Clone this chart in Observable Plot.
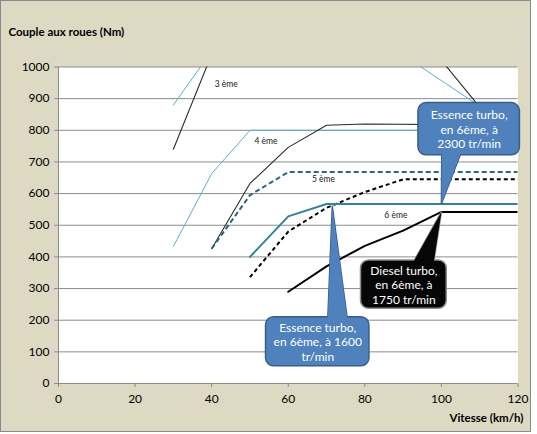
<!DOCTYPE html>
<html><head><meta charset="utf-8">
<script src="https://cdn.jsdelivr.net/npm/d3@7"></script>
<script src="https://cdn.jsdelivr.net/npm/@observablehq/plot@0.6"></script>
<style>
html,body{margin:0;padding:0;background:#fff;}
#chart svg{display:block;border:1px solid #8a8a8a;}
#chart [aria-label*="axis"] text{fill:#000;font-size:12px;font-family:Lato,sans-serif;}
</style></head><body><div id="chart"></div>
<script>
// ---- data ----
const xTicks = [0, 20, 40, 60, 80, 100, 120];
const yTicks = [0, 100, 200, 300, 400, 500, 600, 700, 800, 900, 1000];
const yTitle = "Couple aux roues (Nm)";
const xTitle = "Vitesse (km/h)";

// [vitesse km/h, couple Nm]
const essence3 = [[30, 880], [40, 1050], [90, 1038], [110, 876]];
const diesel3  = [[30, 740], [40, 1040], [100, 1021], [110, 873]];
const essence4 = [[30, 433], [40, 663], [50, 800], [120, 800]];
const diesel4  = [[40, 426], [50, 632], [60, 746], [70, 816], [80, 820], [120, 816]];
const essence5 = [[40, 426], [50, 595], [60, 668], [120, 668]];
const diesel5  = [[50, 336], [60, 480], [70, 555], [80, 605], [90, 645], [120, 645]];
const essence6 = [[50, 400], [60, 528], [70, 567], [120, 567]];
const diesel6  = [[60, 290], [70, 370], [80, 435], [90, 483], [100, 542], [120, 542]];

const gearLabels = ["3 ème", "4 ème", "5 ème", "6 ème"];
const gearLabelX = [43.8, 54.2, 69.2, 88.1];
const gearLabelY = [945, 766, 644, 533];

const calloutText = [
  "Essence turbo,\nen 6ème, à\n2300 tr/min",
  "Diesel turbo,\nen 6ème, à\n1750 tr/min",
  "Essence turbo,\nen 6ème, à 1600\ntr/min"
];
const calloutTipX = [100, 100, 71.5];
const calloutTipY = [568, 542, 560];
// box: [x1, x2, y1, y2] in data units
const calloutBox = [[94, 120.5, 721, 886], [79, 101.4, 236, 389], [54.2, 81.2, 54.4, 209.5]];
// pointer base: [xLeft, xRight, y]
const calloutBase = [[100.1, 105.3, 735], [92.3, 97.9, 376], [70.3, 75.5, 196]];

// ---- styles ----
const seriesData = {essence3, diesel3, essence4, diesel4, essence5, diesel5, essence6, diesel6};
const seriesStyle = {
  essence3: {stroke: "#5DADC8", strokeWidth: 1},
  diesel3:  {stroke: "#2b2b2b", strokeWidth: 1.1},
  essence4: {stroke: "#5DADC8", strokeWidth: 1},
  diesel4:  {stroke: "#2b2b2b", strokeWidth: 1.1},
  essence5: {stroke: "#2A6781", strokeWidth: 2, strokeDasharray: "5,3", strokeLinecap: "butt"},
  diesel5:  {stroke: "#000000", strokeWidth: 2, strokeDasharray: "4,3", strokeLinecap: "butt"},
  essence6: {stroke: "#31849B", strokeWidth: 2},
  diesel6:  {stroke: "#000000", strokeWidth: 2}
};
const calloutFill = ["#4F81BD", "#060606", "#4F81BD"];
const calloutStroke = ["#385D8A", "#8C8C8C", "#385D8A"];

// ---- marks ----
const marks = [
  Plot.frame({fill: "white", stroke: "none"}),
  Plot.ruleY(yTicks.filter(v => v > 0), {stroke: "#8c8c8c", strokeWidth: 1}),
  Plot.ruleX([0], {stroke: "#8c8c8c", strokeWidth: 1}),
  Plot.ruleY([0], {stroke: "#8c8c8c", strokeWidth: 1})
];
for (const name of Object.keys(seriesData)) {
  marks.push(Plot.line(seriesData[name], {x: d => d[0], y: d => d[1], clip: true, ...seriesStyle[name]}));
}
marks.push(Plot.text(gearLabels, {
  x: (d, i) => gearLabelX[i], y: (d, i) => gearLabelY[i], text: d => d,
  fontSize: 8.5, fill: "#1a1a1a"
}));
calloutText.forEach((txt, i) => {
  const b = calloutBox[i], base = calloutBase[i];
  const tri = [[calloutTipX[i], calloutTipY[i]], [base[0], base[2]], [base[1], base[2]], [calloutTipX[i], calloutTipY[i]]];
  marks.push(Plot.line(tri, {x: d => d[0], y: d => d[1], fill: calloutFill[i], stroke: calloutStroke[i], strokeWidth: 1.5, strokeLinejoin: "miter"}));
  marks.push(Plot.rect([b], {x1: d => d[0], x2: d => d[1], y1: d => d[2], y2: d => d[3], fill: calloutFill[i], stroke: calloutStroke[i], strokeWidth: 1.5, rx: 8}));
  marks.push(Plot.line(tri, {x: d => d[0], y: d => d[1], fill: calloutFill[i], stroke: "none"}));
  marks.push(Plot.text([txt], {
    x: (b[0] + b[1]) / 2, y: (b[2] + b[3]) / 2, text: d => d,
    fill: "white", fontSize: 12, lineHeight: 1.2
  }));
});
marks.push(Plot.text([yTitle], {frameAnchor: "top-left", text: d => d, textAnchor: "start", dx: -50, dy: -39.5, fontWeight: "bold", fontSize: 11.5, fill: "#000"}));
marks.push(Plot.text([xTitle], {frameAnchor: "bottom-right", text: d => d, textAnchor: "end", dx: 5.5, dy: 38, fontWeight: "bold", fontSize: 11.5, fill: "#000"}));

const chart = Plot.plot({
  width: 529, height: 430,
  marginLeft: 57, marginRight: 12.5, marginTop: 65.5, marginBottom: 48,
  style: {background: "#DDD9C3", fontFamily: "Lato, sans-serif", fontSize: "12px", color: "#8c8c8c"},
  x: {domain: [0, 120], ticks: xTicks, tickSize: 4, tickPadding: 7, label: null, tickFormat: d => String(d)},
  y: {domain: [0, 1000], ticks: yTicks, tickSize: 4, tickPadding: 5, label: null, tickFormat: d => String(d)},
  marks
});
document.getElementById("chart").appendChild(chart);
</script></body></html>
